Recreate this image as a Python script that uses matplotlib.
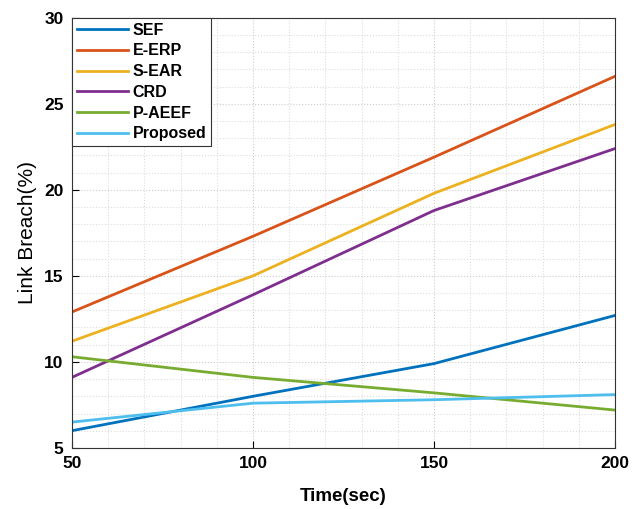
import numpy as np
import matplotlib.pyplot as plt
from matplotlib.ticker import MultipleLocator

plt.rcParams['font.family'] = ['Liberation Sans', 'DejaVu Sans']

# data
time_sec = [50, 100, 150, 200]
sef = [6.0, 8.0, 9.9, 12.7]
e_erp = [12.9, 17.3, 21.9, 26.6]
s_ear = [11.2, 15.0, 19.8, 23.8]
crd = [9.1, 13.9, 18.8, 22.4]
p_aeef = [10.3, 9.1, 8.2, 7.2]
proposed = [6.5, 7.6, 7.8, 8.1]

names = ['SEF', 'E-ERP', 'S-EAR', 'CRD', 'P-AEEF', 'Proposed']
series = [sef, e_erp, s_ear, crd, p_aeef, proposed]
colors = ['#0072BD', '#D95319', '#EDB120', '#7E2F8E', '#77AC30', '#4DBEEE']

fig = plt.figure(figsize=(6.42, 5.09), dpi=100)
ax = fig.add_axes([0.112, 0.12, 0.846, 0.845])

for name, vals, c in zip(names, series, colors):
    ax.plot(time_sec, vals, color=c, lw=2, label=name)

ax.set_xlim(50, 200)
ax.set_ylim(5, 30)
ax.xaxis.set_major_locator(MultipleLocator(50))
ax.yaxis.set_major_locator(MultipleLocator(5))
ax.xaxis.set_minor_locator(MultipleLocator(10))
ax.yaxis.set_minor_locator(MultipleLocator(1))
ax.grid(which='major', color='#cccccc', ls=':', lw=0.8)
ax.grid(which='minor', color='#dddddd', ls=':', lw=0.8)
ax.tick_params(which='both', direction='in', top=False, right=False, labelsize=12.5)
ax.tick_params(which='minor', length=0)
ax.tick_params(which='major', length=5, width=0.8, pad=6)
for s in ax.spines.values():
    s.set_color('#333333')
    s.set_linewidth(0.8)
for lab in ax.get_xticklabels() + ax.get_yticklabels():
    lab.set_fontweight('bold')

ax.set_xlabel('Time(sec)', fontsize=13.5, fontweight='bold', labelpad=12)
ax.set_ylabel('Link Breach(%)', fontsize=15, labelpad=5)

leg = ax.legend(loc='upper left', fontsize=11.5, handlelength=3.2, handletextpad=0.3,
                labelspacing=0.36, borderaxespad=0, borderpad=0.3, fancybox=False,
                framealpha=1)
leg.get_frame().set_edgecolor('#333333')
leg.get_frame().set_linewidth(0.8)
for t in leg.get_texts():
    t.set_fontweight('bold')

fig.savefig('out.png', dpi=100)
